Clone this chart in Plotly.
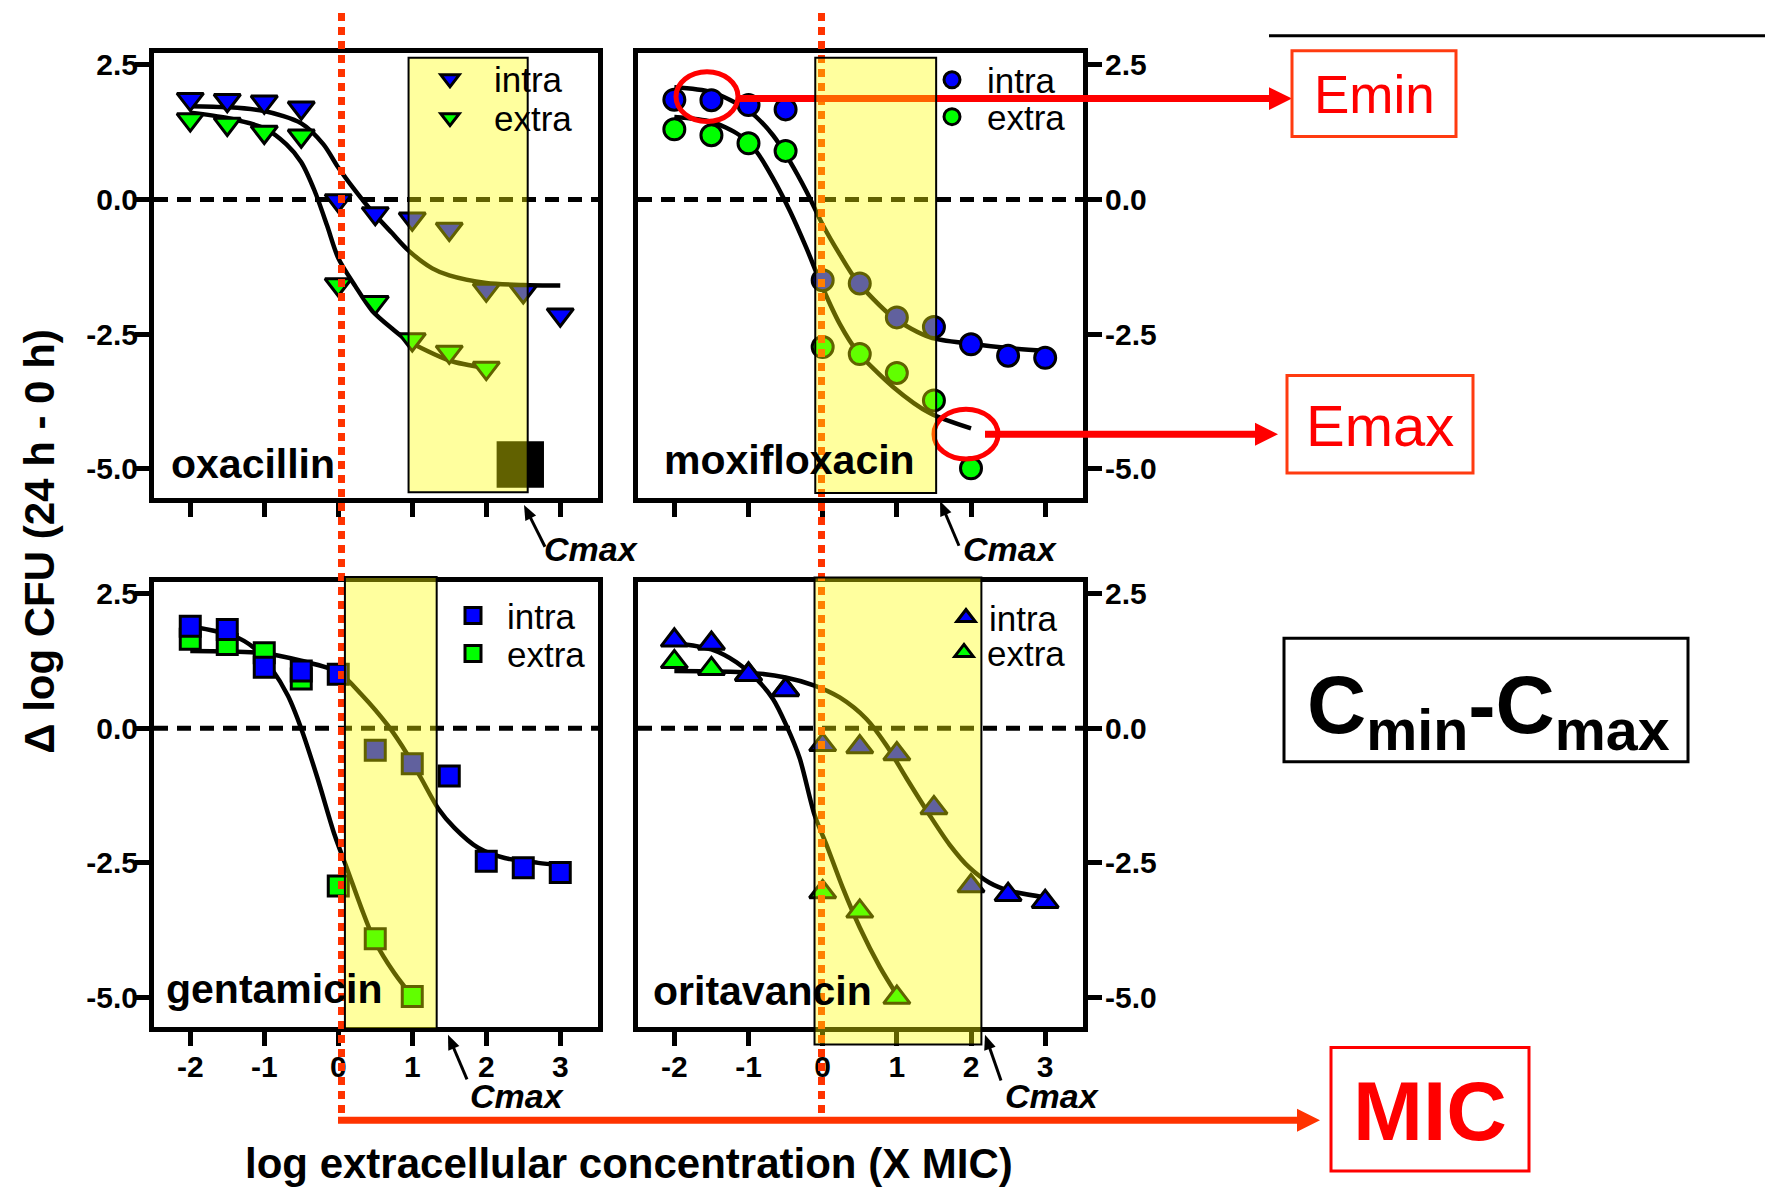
import math
import plotly.graph_objects as go

W, H = 1765, 1187
FONT = "Liberation Sans, Arial, sans-serif"

# ---------------- data ----------------
conc = [-2, -1.5, -1, -0.5, 0, 0.5, 1, 1.5, 2, 2.5, 3]
x_ticks = [-2, -1, 0, 1, 2, 3]
x_tick_labels = ["-2", "-1", "0", "1", "2", "3"]
y_ticks = [-5, -2.5, 0, 2.5]
y_tick_labels = ["-5.0", "-2.5", "0.0", "2.5"]
drugs = ["oxacillin", "moxifloxacin", "gentamicin", "oritavancin"]
series = ["intra", "extra"]

oxa_intra = [1.86, 1.84, 1.81, 1.70, -0.02, -0.26, -0.36, -0.55, -1.68, -1.71, -2.14]
oxa_extra = [1.48, 1.40, 1.25, 1.18, -1.58, -1.91, -2.60, -2.83, -3.13]
moxi_intra = [1.85, 1.84, 1.75, 1.67, -1.50, -1.56, -2.19, -2.37, -2.69, -2.90, -2.94]
moxi_extra = [1.30, 1.19, 1.04, 0.90, -2.74, -2.87, -3.22, -3.73, -4.99]
genta_intra = [1.89, 1.83, 1.13, 1.06, 1.00, -0.41, -0.66, -0.89, -2.47, -2.59, -2.68]
genta_extra = [1.65, 1.55, 1.40, 0.91, -2.93, -3.91, -4.98]
orita_intra = [1.63, 1.57, 0.99, 0.71, -0.31, -0.35, -0.48, -1.48, -2.93, -3.09, -3.22]
orita_extra = [1.23, 1.10, 1.00, 0.72, -3.04, -3.40, -5.00]

# fitted curves
oxa_intra_fit_x = [-2, -1.5, -1, -0.5, -0.2, 0, 0.23, 0.46, 0.73, 0.95, 1.27, 1.5, 2, 2.5, 3]
oxa_intra_fit_y = [1.73, 1.71, 1.64, 1.41, 1.02, 0.59, 0.16, -0.23, -0.63, -0.95, -1.28, -1.41, -1.55, -1.59, -1.60]
oxa_extra_fit_x = [-2, -1.5, -1, -0.7, -0.5, -0.32, -0.15, 0, 0.23, 0.46, 0.73, 0.95, 1.5, 2]
oxa_extra_fit_y = [1.61, 1.51, 1.32, 1.02, 0.69, 0.16, -0.49, -1.09, -1.61, -2.07, -2.40, -2.63, -2.99, -3.13]
moxi_intra_fit_x = [-2, -1.5, -1, -0.67, -0.44, -0.22, 0, 0.23, 0.46, 0.95, 1.45, 2, 2.5, 3]
moxi_intra_fit_y = [2.08, 1.99, 1.65, 1.19, 0.70, 0.15, -0.47, -1.02, -1.51, -2.19, -2.56, -2.68, -2.76, -2.81]
moxi_extra_fit_x = [-2, -1.5, -1.12, -0.89, -0.67, -0.44, -0.22, 0, 0.23, 0.46, 0.95, 1.45, 2]
moxi_extra_fit_y = [1.53, 1.44, 1.19, 0.88, 0.39, -0.22, -0.90, -1.64, -2.31, -2.81, -3.48, -3.97, -4.25]
genta_intra_fit_x = [-2, -1, -0.5, 0, 0.31, 0.67, 0.94, 1.12, 1.35, 1.57, 1.89, 2.25, 2.7, 3]
genta_intra_fit_y = [1.43, 1.39, 1.25, 1.04, 0.63, 0.05, -0.50, -0.93, -1.49, -1.85, -2.22, -2.41, -2.50, -2.54]
genta_extra_fit_x = [-2, -1.41, -1.14, -0.91, -0.68, -0.5, -0.28, -0.05, 0.13, 0.31, 0.49, 0.76, 1.0]
genta_extra_fit_y = [1.89, 1.71, 1.49, 1.12, 0.60, -0.01, -0.93, -1.98, -2.65, -3.33, -3.94, -4.55, -4.98]
orita_intra_fit_x = [-2, -1, -0.5, -0.11, 0.23, 0.59, 0.86, 1.13, 1.44, 1.71, 1.98, 2.25, 2.52, 3]
orita_intra_fit_y = [1.06, 1.03, 0.94, 0.79, 0.57, 0.17, -0.32, -0.93, -1.61, -2.16, -2.59, -2.87, -3.02, -3.14]
orita_extra_fit_x = [-2, -1.5, -1.16, -0.89, -0.67, -0.49, -0.31, -0.11, 0.05, 0.27, 0.5, 0.77, 1.0]
orita_extra_fit_y = [1.58, 1.46, 1.22, 0.91, 0.54, 0.05, -0.56, -1.61, -2.16, -2.96, -3.70, -4.43, -4.95]

# Cmin-Cmax bands (log X MIC)
oxa_band = [0.95, 2.56]
moxi_band = [-0.10, 1.53]
genta_band = [0.09, 1.33]
orita_band = [-0.11, 2.14]
oxa_block_x = [2.14, 2.78]
oxa_block_y = [-5.35, -4.49]

BLUE = "#0000FF"
GREEN = "#00FF00"
RED = "#FF0000"
ORANGE_RED = "#FF3300"


def px(x):
    return x / W


def py(y):
    return 1 - y / H


col1 = [px(154), px(598)]
col2 = [px(638), px(1083)]
row1 = [py(495), py(48)]
row2 = [py(1026), py(579)]

panels = [
    dict(xa="x", ya="y", sym="triangle-down", size=23, intra=oxa_intra, extra=oxa_extra,
         fi=(oxa_intra_fit_x, oxa_intra_fit_y), fe=(oxa_extra_fit_x, oxa_extra_fit_y),
         band=oxa_band, band_y=[0.013, 0.989], lg=("legend", "legend2")),
    dict(xa="x2", ya="y2", sym="circle", size=21, intra=moxi_intra, extra=moxi_extra,
         fi=(moxi_intra_fit_x, moxi_intra_fit_y), fe=(moxi_extra_fit_x, moxi_extra_fit_y),
         band=moxi_band, band_y=[0.011, 0.989], lg=("legend3", "legend4")),
    dict(xa="x3", ya="y3", sym="square", size=20, intra=genta_intra, extra=genta_extra,
         fi=(genta_intra_fit_x, genta_intra_fit_y), fe=(genta_extra_fit_x, genta_extra_fit_y),
         band=genta_band, band_y=[-0.005, 1.01], lg=("legend5", "legend6")),
    dict(xa="x4", ya="y4", sym="triangle-up", size=23, intra=orita_intra, extra=orita_extra,
         fi=(orita_intra_fit_x, orita_intra_fit_y), fe=(orita_extra_fit_x, orita_extra_fit_y),
         band=orita_band, band_y=[-0.04, 1.009], lg=("legend7", "legend8")),
]

fig = go.Figure()

for p in panels:
    for fx, fy in (p["fi"], p["fe"]):
        fig.add_trace(go.Scatter(
            x=fx, y=fy, mode="lines", xaxis=p["xa"], yaxis=p["ya"],
            line=dict(color="black", width=4.5, shape="spline", smoothing=0.8),
            showlegend=False, hoverinfo="skip"))
    fig.add_trace(go.Scatter(
        x=conc[:len(p["extra"])], y=p["extra"], mode="markers", name=series[1],
        xaxis=p["xa"], yaxis=p["ya"], legend=p["lg"][1],
        marker=dict(symbol=p["sym"], size=p["size"], color=GREEN,
                    line=dict(color="black", width=3))))
    fig.add_trace(go.Scatter(
        x=conc[:len(p["intra"])], y=p["intra"], mode="markers", name=series[0],
        xaxis=p["xa"], yaxis=p["ya"], legend=p["lg"][0],
        marker=dict(symbol=p["sym"], size=p["size"], color=BLUE,
                    line=dict(color="black", width=3))))

tickfont = dict(family=FONT, size=30, color="black", weight="bold")


def xaxis(domain, anchor, labels):
    return dict(domain=domain, anchor=anchor, range=[-2.49, 3.51],
                tickvals=x_ticks, ticktext=x_tick_labels, showticklabels=labels,
                ticks="outside", ticklen=14, tickwidth=5, tickcolor="black",
                ticklabelstandoff=-5,
                showline=True, linewidth=5, linecolor="black", mirror=True,
                showgrid=False, zeroline=False, tickfont=tickfont, fixedrange=True)


def yaxis(domain, anchor, side):
    return dict(domain=domain, anchor=anchor, side=side, range=[-5.54, 2.72],
                tickvals=y_ticks, ticktext=y_tick_labels,
                ticks="outside", ticklen=14, tickwidth=5, tickcolor="black",
                ticklabelstandoff=(-9 if side == "left" else -3),
                showline=True, linewidth=5, linecolor="black", mirror=True,
                showgrid=False, zeroline=False, tickfont=tickfont, fixedrange=True)


shapes = []


def line_px(x0, y0, x1, y1, color, width, dash=None, layer="above"):
    ln = dict(color=color, width=width)
    if dash:
        ln["dash"] = dash
    shapes.append(dict(type="line", xref="paper", yref="paper", x0=px(x0), x1=px(x1),
                       y0=py(y0), y1=py(y1), layer=layer, line=ln))


def arrow_px(tail, tip, color, width, head_len, head_half):
    dx, dy = tip[0] - tail[0], tip[1] - tail[1]
    L = math.hypot(dx, dy)
    ux, uy = dx / L, dy / L
    bx, by = tip[0] - ux * (head_len - 1), tip[1] - uy * (head_len - 1)
    line_px(tail[0], tail[1], bx, by, color, width)
    nx, ny = -uy, ux
    pts = [tip, (tip[0] - ux * head_len + nx * head_half, tip[1] - uy * head_len + ny * head_half),
           (tip[0] - ux * head_len - nx * head_half, tip[1] - uy * head_len - ny * head_half)]
    path = "M " + " L ".join("%.5f,%.5f" % (px(a), py(b)) for a, b in pts) + " Z"
    shapes.append(dict(type="path", xref="paper", yref="paper", path=path,
                       fillcolor=color, line=dict(width=0), layer="above"))


# dashed zero lines
for p in panels:
    shapes.append(dict(type="line", xref=p["xa"] + " domain", yref=p["ya"],
                       x0=0, x1=1, y0=0, y1=0, layer="below",
                       line=dict(color="black", width=5, dash="14px,9px")))

# black block (oxacillin)
shapes.append(dict(type="rect", xref="x", yref="y", x0=oxa_block_x[0], x1=oxa_block_x[1],
                   y0=oxa_block_y[0], y1=oxa_block_y[1], fillcolor="black",
                   line=dict(width=0), layer="above"))

# red dotted MIC lines
for xpix in (341.5, 821.5):
    line_px(xpix, 8, xpix, 1120, ORANGE_RED, 7, dash="8px,6px")
# arrows (MIC, Emin, Emax)
arrow_px((338, 1120), (1320, 1120), ORANGE_RED, 7, 23, 11.5)
arrow_px((737, 94), (1292, 94), RED, 7, 23, 11.5)
arrow_px((985, 431), (1278, 431), RED, 7, 23, 11.5)
# red ellipses
for cx, cy, rx, ry in ((707, 92, 31, 25), (966, 431, 32, 25)):
    shapes.append(dict(type="circle", xref="paper", yref="paper",
                       x0=px(cx - rx), x1=px(cx + rx), y0=py(cy + ry), y1=py(cy - ry),
                       layer="above", line=dict(color=RED, width=5)))

# Cmin-Cmax yellow bands
for p in panels:
    shapes.append(dict(type="rect", xref=p["xa"], yref=p["ya"] + " domain",
                       x0=p["band"][0], x1=p["band"][1], y0=p["band_y"][0], y1=p["band_y"][1],
                       fillcolor="rgba(255,255,0,0.38)", layer="above",
                       line=dict(color="black", width=2)))

# Cmax arrows
for tip, tail in [((524, 502), (545, 544)), ((940, 498), (959, 543)),
                  ((448, 1034), (467, 1079)), ((985, 1034), (1001, 1080))]:
    arrow_px(tail, tip, "black", 3, 15, 6)

# boxes on the right
line_px(1269, 31, W, 31, "black", 3)
for (x0, y0, x1, y1), col in [((1292, 46, 1456, 132), "#FF3B10"),
                              ((1287, 372, 1473, 470), "#FF3B10"),
                              ((1331, 1047, 1529, 1171), RED),
                              ((1284, 636, 1688, 760), "black")]:
    shapes.append(dict(type="rect", xref="paper", yref="paper", x0=px(x0), x1=px(x1),
                       y0=py(y1), y1=py(y0), line=dict(color=col, width=3), layer="above"))

annotations = []


def text_ann(text, x, y, size, color="black", xanchor="center", angle=0):
    annotations.append(dict(text=text, x=px(x), y=py(y), xref="paper", yref="paper",
                            xanchor=xanchor, yanchor="middle", showarrow=False,
                            textangle=angle,
                            font=dict(family=FONT, size=size, color=color)))


# drug labels
for name, (x, y) in zip(drugs, [(169, 461), (662, 457), (164, 988), (651, 990)]):
    text_ann("<b>%s</b>" % name, x, y, 41, xanchor="left")

# Cmax labels
for tx, ty in [(591, 546), (1010, 546), (517, 1096), (1052, 1096)]:
    text_ann("<b><i>Cmax</i></b>", tx, ty, 34)

text_ann("Emin", 1374, 90, 53, color=RED)
text_ann("Emax", 1380, 422, 58, color=RED)
text_ann("<b>MIC</b>", 1430, 1111, 84, color=RED)
text_ann("<b>C<sub>min</sub>-C<sub>max</sub></b>", 1488, 708, 82)

# axis titles
text_ann("<b>Δ log CFU (24 h - 0 h)</b>", 40, 539, 42, angle=-90)
text_ann("<b>log extracellular concentration (X MIC)</b>", 629, 1163, 42)


def legend(symbol_x, symbol_y, itemwidth, size=35):
    half = (itemwidth + 10) / 2
    top = symbol_y - (8 + (size * 1.3 + 3) / 2)
    return dict(x=px(symbol_x - half), y=py(top), xanchor="left", yanchor="top",
                bgcolor="rgba(0,0,0,0)", borderwidth=0, itemwidth=itemwidth,
                font=dict(family=FONT, size=size, color="black"))


fig.update_layout(
    width=W, height=H,
    margin=dict(l=0, r=0, t=0, b=0),
    paper_bgcolor="white", plot_bgcolor="white",
    font=dict(family=FONT, color="black"),
    xaxis=xaxis(col1, "y", False), yaxis=yaxis(row1, "x", "left"),
    xaxis2=xaxis(col2, "y2", False), yaxis2=yaxis(row1, "x2", "right"),
    xaxis3=xaxis(col1, "y3", True), yaxis3=yaxis(row2, "x3", "left"),
    xaxis4=xaxis(col2, "y4", True), yaxis4=yaxis(row2, "x4", "right"),
    legend=legend(450, 77, 78), legend2=legend(450, 116, 78),
    legend3=legend(952, 78, 60), legend4=legend(952, 115, 60),
    legend5=legend(473, 616, 58), legend6=legend(473, 654, 58),
    legend7=legend(966, 618, 36), legend8=legend(964, 653, 36),
    shapes=shapes, annotations=annotations,
    hovermode=False,
)

fig.write_html("out.html", include_plotlyjs=True, config={"displayModeBar": False},
               post_script="document.body.style.margin='0px';document.body.style.overflow='hidden';")
